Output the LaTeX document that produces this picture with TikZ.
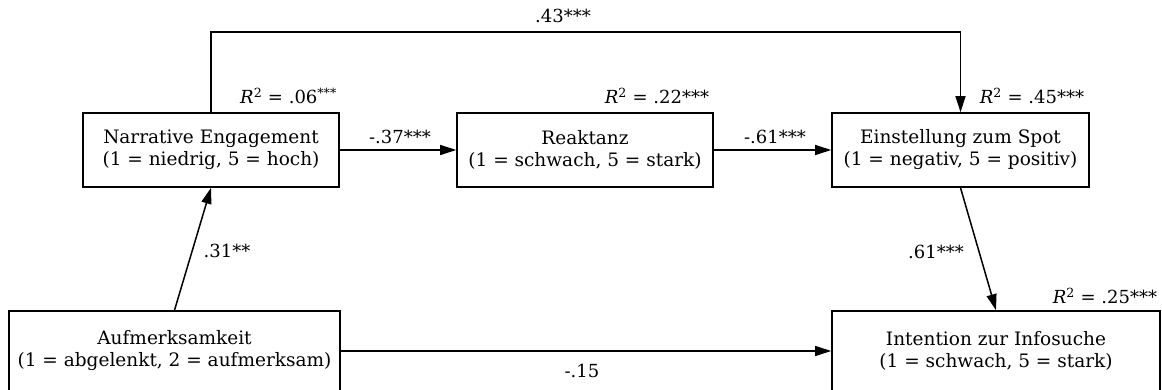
\documentclass[tikz,border=0pt]{standalone}
\usepackage{fontspec}
\setmainfont{DejaVu Serif}
\usetikzlibrary{arrows.meta}
\tikzset{
  box/.style={draw, line width=1.6pt, align=center, inner sep=0pt, font=\fontsize{18.5}{22}\selectfont},
  arr/.style={line width=1.5pt, -{Triangle[length=16pt,width=10pt]}},
  lab/.style={inner sep=0pt, font=\fontsize{18}{20}\selectfont},
}
\newcommand{\Rsq}{\textit{R}\textsuperscript{2}}
\begin{document}
\begin{tikzpicture}[x=1pt,y=-1pt]
\useasboundingbox[fill=white] (0,0) rectangle (1162,390);
\node[box, minimum width=256pt, minimum height=74pt] (narr) at (211,150) {Narrative Engagement\\(1 = niedrig, 5 = hoch)};
\node[box, minimum width=256pt, minimum height=74pt] (reak) at (585,150) {Reaktanz\\(1 = schwach, 5 = stark)};
\node[box, minimum width=257pt, minimum height=74pt] (einst) at (960.5,150) {Einstellung zum Spot\\(1 = negativ, 5 = positiv)};
\node[box, minimum width=331pt, minimum height=80pt] (aufm) at (174.5,351) {Aufmerksamkeit\\(1 = abgelenkt, 2 = aufmerksam)};
\node[box, minimum width=328pt, minimum height=80pt] (intent) at (996,351) {Intention zur Infosuche\\(1 = schwach, 5 = stark)};
\coordinate (tl) at (211,32);
\coordinate (tr) at (960.5,32);
\draw[arr] (narr.north) -- (tl) -- (tr) -- (einst.north);
\draw[arr] (narr.east) -- (reak.west);
\draw[arr] (reak.east) -- (einst.west);
\draw[arr] (aufm.north) -- (narr.south);
\draw[arr] (einst.south) -- (intent.north);
\draw[arr] (aufm.east) -- (intent.west);
\node[lab] (l43) at (563,16) {.43***};
\node[lab] (l37) at (400,137) {-.37***};
\node[lab] (l61a) at (775,137) {-.61***};
\node[lab] (l31) at (227,251) {.31**};
\node[lab] (l61b) at (936,252) {.61***};
\node[lab] (l15) at (582,371) {-.15};
\node[lab, anchor=west] (r06) at (240,96) {\Rsq{} = .06\textsuperscript{***}};
\node[lab] (r22) at (657,96) {\Rsq{} = .22***};
\node[lab] (r45) at (1032,96) {\Rsq{} = .45***};
\node[lab] (r25) at (1105,296) {\Rsq{} = .25***};
\end{tikzpicture}
\end{document}
